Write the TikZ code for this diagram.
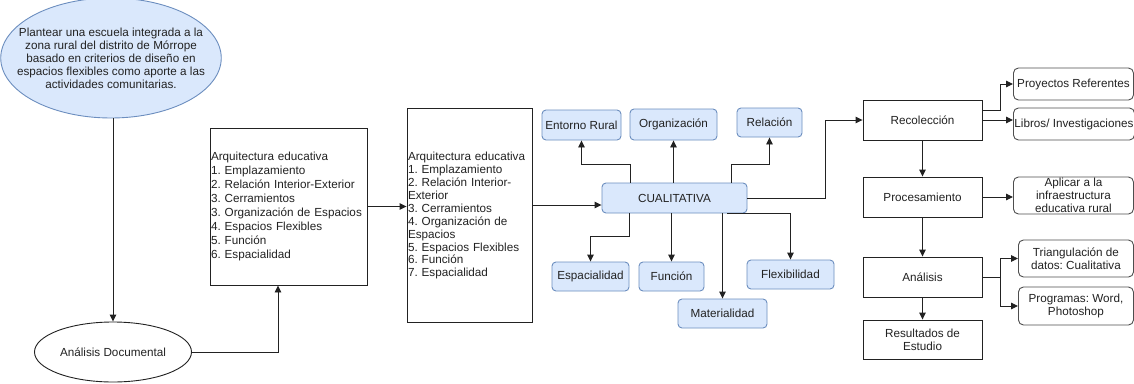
\documentclass[tikz,border=0pt]{standalone}
\usepackage{fontspec}
\setmainfont{Liberation Sans}
\usetikzlibrary{shapes.geometric,arrows.meta}
\definecolor{bfill}{HTML}{DAE8FC}
\definecolor{bstroke}{HTML}{6C8EBF}
\definecolor{ink}{HTML}{222222}
\frenchspacing
\begin{document}
\begin{tikzpicture}[x=1pt,y=-1pt,
  base/.style={font=\fontsize{11.7}{13}\selectfont, text=ink, inner sep=0pt, align=center, line width=0.9pt},
  blk/.style={base, draw=ink, rectangle},
  bluebox/.style={base, draw=bstroke, fill=bfill, rounded corners=4pt},
  rbox/.style={base, draw=ink!80, rounded corners=5pt, anchor=west},
  arr/.style={-{Triangle[length=7pt,width=6.5pt]}, line width=0.9pt, draw=ink},
  ln/.style={line width=0.9pt, draw=ink}]
\useasboundingbox (0,0) rectangle (1134,383);
\fill[white] (0,0) rectangle (1134,383);
\clip (0,0) rectangle (1134,383);

% left
\node[base, ellipse, draw=bstroke, fill=bfill, minimum width=218pt, minimum height=120pt, inner xsep=-16pt] (goal) at (111,58)
  {Plantear una escuela integrada a la\\zona rural del distrito de Mórrope\\basado en criterios de diseño en\\espacios flexibles como aporte a las\\actividades comunitarias.};
\node[base, ellipse, draw=ink, minimum width=157pt, minimum height=60pt] (ad) at (113,352) {Análisis Documental};

\node[blk, font=\fontsize{11.7}{14}\selectfont, align=left, text width=155pt, inner xsep=1pt, minimum height=157pt] (b1) at (288.5,206.5)
  {Arquitectura educativa\\1. Emplazamiento\\2. Relación Interior-Exterior\\3. Cerramientos\\3. Organización de Espacios\\4. Espacios Flexibles\\5. Función\\6. Espacialidad};
\node[blk, font=\fontsize{11.7}{12.9}\selectfont, align=left, text width=123pt, inner xsep=1pt, minimum height=214pt] (b2) at (469.5,215)
  {\mbox{}\\[-2.9pt]Arquitectura educativa\\1. Emplazamiento\\2. Relación Interior-\\Exterior\\3. Cerramientos\\4. Organización de\\Espacios\\5. Espacios Flexibles\\6. Función\\7. Espacialidad};

% center
\node[bluebox, minimum width=145pt, minimum height=30pt] (cual) at (674.5,198) {CUALITATIVA};
\node[bluebox, minimum width=79pt, minimum height=30pt] (er) at (581.5,125) {Entorno Rural};
\node[bluebox, minimum width=87pt, minimum height=31pt] (org) at (673.5,124.5) {Organización};
\node[bluebox, minimum width=65pt, minimum height=29pt] (rel) at (769.5,122.5) {Relación};
\node[bluebox, minimum width=77pt, minimum height=29pt] (esp) at (590.5,276.5) {Espacialidad};
\node[bluebox, minimum width=65pt, minimum height=29pt] (fun) at (671.5,276.5) {Función};
\node[bluebox, minimum width=87pt, minimum height=29pt] (flex) at (790.5,274.5) {Flexibilidad};
\node[bluebox, minimum width=89pt, minimum height=29pt] (mat) at (722.5,313.5) {Materialidad};

% right
\node[blk, minimum width=119pt, minimum height=40pt] (rec) at (922.5,120) {Recolección};
\node[blk, minimum width=119pt, minimum height=40pt] (proc) at (922.5,197) {Procesamiento};
\node[blk, minimum width=119pt, minimum height=40pt] (ana) at (922.5,277) {Análisis};
\node[blk, minimum width=119pt, minimum height=39pt] (res) at (922.5,339.5) {Resultados de\\Estudio};

\node[rbox, minimum width=120pt, minimum height=32pt] (pr) at (1013,84) {Proyectos Referentes};
\node[rbox, minimum width=120pt, minimum height=32pt, inner xsep=1pt] (lib) at (1013,124) {Libros/ Investigaciones};
\node[rbox, minimum width=120pt, minimum height=37pt] (apl) at (1013,195.5) {Aplicar a la\\infraestructura\\educativa rural};
\node[rbox, minimum width=115pt, minimum height=37pt] (tri) at (1018,258.5) {Triangulación de\\datos: Cualitativa};
\node[rbox, minimum width=115pt, minimum height=38pt] (prog) at (1018,306) {Programas: Word,\\Photoshop};

% connectors
\draw[arr] (goal.south -| ad.north) -- (ad.north);
\draw[arr] (ad.east) -| ([xshift=-10.5pt]b1.south);
\draw[arr] (b1.east) -- (b1.east -| b2.west);
\coordinate (cin) at ([yshift=-7pt]cual.west);
\draw[arr] (b2.east |- cin) -- (cin);

\draw[arr] ([xshift=-44.5pt]cual.north) -- ++(0,-18) -| (er.south);
\draw[arr] (org.south |- cual.north) -- (org.south);
\draw[arr] ([xshift=56.5pt]cual.north) -- ++(0,-18) -| (rel.south);
\draw[arr] ([xshift=-45.5pt]cual.south) -- ++(0,23) -| (esp.north);
\draw[arr] (fun.north |- cual.south) -- (fun.north);
\draw[arr] (mat.north |- cual.south) -- (mat.north);
\draw[arr] ([xshift=52.5pt]cual.south) -| (flex.north);
\draw[arr] (cual.east) -- ++(78,0) |- (rec.west);

\draw[arr] ([yshift=10pt]rec.east) -- ++(18,0) |- (pr.west);
\draw[arr] (rec.east) -- (rec.east -| lib.west);
\draw[arr] (rec.south) -- (proc.north);
\draw[arr] (proc.east) -- (proc.east -| apl.west);
\draw[arr] (proc.south) -- (ana.north);
\draw[ln] (ana.east) -- ++(18,0) coordinate (aj);
\draw[arr] (aj) |- (tri.west);
\draw[arr] (aj) |- (prog.west);
\draw[arr] (ana.south) -- (res.north);
\end{tikzpicture}
\end{document}
